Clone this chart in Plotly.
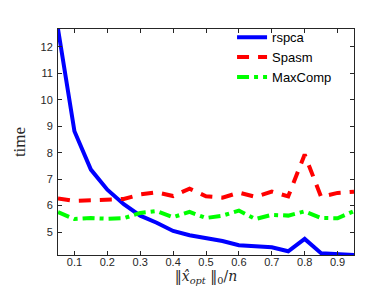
import plotly.graph_objects as go

x_vals = [0.05, 0.1, 0.15, 0.2, 0.25, 0.3, 0.35, 0.4, 0.45, 0.5,
          0.55, 0.6, 0.65, 0.7, 0.75, 0.8, 0.85, 0.9, 0.95]
rspca = [12.68, 8.81, 7.36, 6.6, 6.05, 5.62, 5.35, 5.04, 4.88, 4.78,
         4.66, 4.5, 4.45, 4.42, 4.27, 4.74, 4.2, 4.16, 4.13]
spasm = [6.27, 6.18, 6.2, 6.22, 6.25, 6.42, 6.5, 6.36, 6.64, 6.35,
         6.3, 6.49, 6.33, 6.53, 6.35, 7.93, 6.33, 6.48, 6.52]
maxcomp = [5.75, 5.49, 5.53, 5.5, 5.52, 5.72, 5.79, 5.56, 5.76, 5.53,
           5.62, 5.81, 5.49, 5.65, 5.62, 5.78, 5.53, 5.52, 5.79]

x_ticks = [0.1, 0.2, 0.3, 0.4, 0.5, 0.6, 0.7, 0.8, 0.9]
x_ticklabels = ["0.1", "0.2", "0.3", "0.4", "0.5", "0.6", "0.7", "0.8", "0.9"]
y_ticks = [5, 6, 7, 8, 9, 10, 11, 12]

fig = go.Figure()
fig.add_trace(go.Scatter(x=x_vals, y=rspca, mode="lines", name="rspca",
                         line=dict(color="#0000ff", width=4)))
fig.add_trace(go.Scatter(x=x_vals, y=spasm, mode="lines", name="Spasm",
                         line=dict(color="#ff0000", width=4, dash="12px,9px")))
fig.add_trace(go.Scatter(x=x_vals, y=maxcomp, mode="lines", name="MaxComp",
                         line=dict(color="#00ff00", width=4, dash="12px,5px,4px,5px")))

axis_common = dict(showline=True, linecolor="#262626", linewidth=1, mirror="ticks",
                   ticks="inside", ticklen=4, tickcolor="#262626", showgrid=False,
                   zeroline=False, tickfont=dict(family="Liberation Sans, Arial", size=11,
                                                 color="#262626"))

fig.update_layout(
    width=382, height=287,
    margin=dict(l=50, r=36, t=21, b=40),
    plot_bgcolor="white", paper_bgcolor="white",
    xaxis=dict(range=[0.05, 0.95], tickvals=x_ticks, ticktext=x_ticklabels,
               ticklabelstandoff=-3,
               title=dict(text="‖<i>x̂</i><sub><i>opt</i></sub> ‖<sub>0</sub>/<i>n</i>",
                          font=dict(family="DejaVu Serif, Liberation Serif, serif", size=14,
                                    color="#262626"),
                          standoff=0),
               **axis_common),
    yaxis=dict(range=[4.13, 12.68], tickvals=y_ticks, ticklabelstandoff=2,
               title=dict(text="time",
                          font=dict(family="Liberation Serif, serif", size=17, color="#262626"),
                          standoff=10),
               **axis_common),
    legend=dict(x=0.588, y=1.03, xanchor="left", yanchor="top",
                bgcolor="rgba(0,0,0,0)", borderwidth=0,
                font=dict(family="Liberation Sans, Arial", size=13, color="black"),
                tracegroupgap=0, itemwidth=30),
    showlegend=True,
)

fig.write_html("out.html")
